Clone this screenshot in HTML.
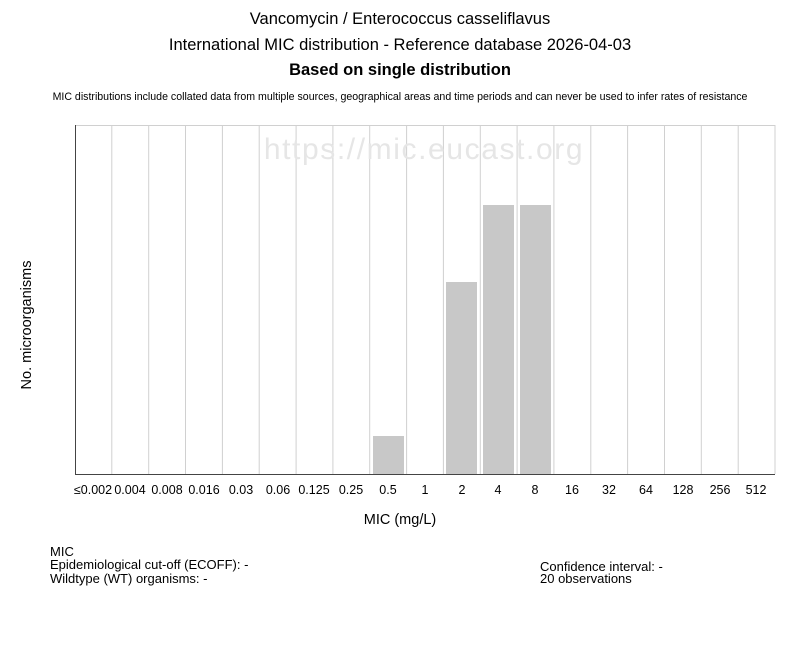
<!DOCTYPE html>
<html><head><meta charset="utf-8"><style>
body{margin:0;background:#fff;}
svg text{font-family:"Liberation Sans",sans-serif;fill:#000;}
</style></head><body>
<svg width="800" height="650" viewBox="0 0 800 650" xmlns="http://www.w3.org/2000/svg">
<rect width="800" height="650" fill="#fff"/>
<text x="400" y="24" font-size="16.5" text-anchor="middle">Vancomycin / Enterococcus casseliflavus</text>
<text x="400" y="50" font-size="16.5" text-anchor="middle">International MIC distribution - Reference database 2026-04-03</text>
<text x="400" y="75" font-size="16.5" font-weight="bold" text-anchor="middle">Based on single distribution</text>
<text x="400" y="100" font-size="10.6" text-anchor="middle">MIC distributions include collated data from multiple sources, geographical areas and time periods and can never be used to infer rates of resistance</text>
<line x1="75" y1="125.5" x2="775" y2="125.5" stroke="#d0d0d0"/>
<g stroke="#d0d0d0" stroke-width="1">
<line x1="111.8" y1="125" x2="111.8" y2="474"/><line x1="148.7" y1="125" x2="148.7" y2="474"/><line x1="185.5" y1="125" x2="185.5" y2="474"/><line x1="222.4" y1="125" x2="222.4" y2="474"/><line x1="259.2" y1="125" x2="259.2" y2="474"/><line x1="296.1" y1="125" x2="296.1" y2="474"/><line x1="332.9" y1="125" x2="332.9" y2="474"/><line x1="369.7" y1="125" x2="369.7" y2="474"/><line x1="406.6" y1="125" x2="406.6" y2="474"/><line x1="443.4" y1="125" x2="443.4" y2="474"/><line x1="480.3" y1="125" x2="480.3" y2="474"/><line x1="517.1" y1="125" x2="517.1" y2="474"/><line x1="553.9" y1="125" x2="553.9" y2="474"/><line x1="590.8" y1="125" x2="590.8" y2="474"/><line x1="627.6" y1="125" x2="627.6" y2="474"/><line x1="664.5" y1="125" x2="664.5" y2="474"/><line x1="701.3" y1="125" x2="701.3" y2="474"/><line x1="738.2" y1="125" x2="738.2" y2="474"/><line x1="775" y1="125" x2="775" y2="474"/>
</g>
<text x="424" y="159" font-size="30" letter-spacing="1.6" style="fill:#e6e6e6" text-anchor="middle">https://mic.eucast.org</text>
<g fill="#c8c8c8">
<rect x="373" y="436" width="31" height="39"/>
<rect x="446" y="282" width="31" height="193"/>
<rect x="483" y="205" width="31" height="270"/>
<rect x="520" y="205" width="31" height="270"/>
</g>
<line x1="75.5" y1="125" x2="75.5" y2="475" stroke="#444"/>
<line x1="75" y1="474.5" x2="775" y2="474.5" stroke="#444"/>
<g font-size="12.5" text-anchor="middle">
<text x="93" y="494">≤0.002</text><text x="130" y="494">0.004</text><text x="167" y="494">0.008</text><text x="204" y="494">0.016</text><text x="241" y="494">0.03</text><text x="278" y="494">0.06</text><text x="314" y="494">0.125</text><text x="351" y="494">0.25</text><text x="388" y="494">0.5</text><text x="425" y="494">1</text><text x="462" y="494">2</text><text x="498" y="494">4</text><text x="535" y="494">8</text><text x="572" y="494">16</text><text x="609" y="494">32</text><text x="646" y="494">64</text><text x="683" y="494">128</text><text x="720" y="494">256</text><text x="756" y="494">512</text>
</g>
<text x="400" y="524" font-size="14.5" text-anchor="middle">MIC (mg/L)</text>
<text transform="translate(31,325) rotate(-90)" font-size="14.5" text-anchor="middle">No. microorganisms</text>
<g font-size="13">
<text x="50" y="556">MIC</text>
<text x="50" y="569">Epidemiological cut-off (ECOFF): -</text>
<text x="50" y="583">Wildtype (WT) organisms:  -</text>
<text x="540" y="571">Confidence interval: -</text>
<text x="540" y="583">20 observations</text>
</g>
</svg>
</body></html>
